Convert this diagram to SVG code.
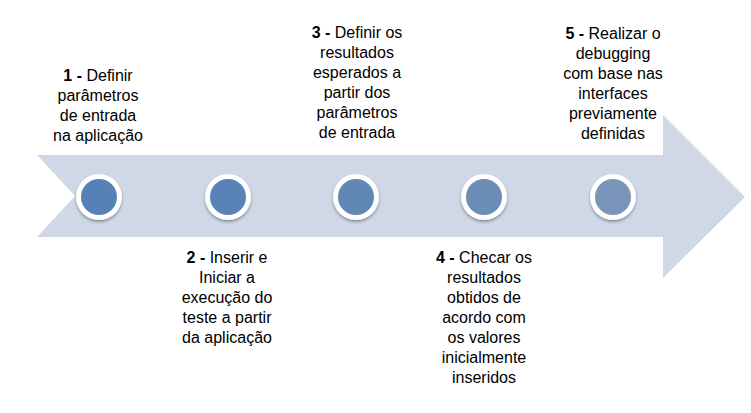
<svg xmlns="http://www.w3.org/2000/svg" width="751" height="413" viewBox="0 0 751 413">
<defs>
<style>
.t{font-family:"Liberation Sans",Arial,sans-serif;font-size:16px;fill:#000;text-anchor:middle}
.b{font-weight:bold}
.ring{fill:#fff;filter:url(#sh)}
</style>
<filter id="sh" x="-30%" y="-30%" width="160%" height="170%">
<feDropShadow dx="0" dy="2" stdDeviation="1.5" flood-color="#000" flood-opacity="0.35"/>
</filter>
</defs>
<rect width="751" height="413" fill="#fff"/>
<g id="arrow">
<polygon points="37,155 663,155 663,115 745,197 663,278 663,237 37,237 75,196" fill="#D0D8E8"/>
</g>
<g id="node1">
<circle class="ring" cx="99" cy="197" r="23"/>
<circle cx="99" cy="197" r="18" fill="#5580B8"/>
<text class="t"><tspan x="98" y="81"><tspan class="b">1 -</tspan> Definir</tspan><tspan x="98" y="101">parâmetros</tspan><tspan x="98" y="121">de entrada</tspan><tspan x="98" y="141">na aplicação</tspan></text>
</g>
<g id="node2">
<circle class="ring" cx="228" cy="197" r="23"/>
<circle cx="228" cy="197" r="18" fill="#5983B7"/>
<text class="t"><tspan x="227" y="263"><tspan class="b">2 -</tspan> Inserir e</tspan><tspan x="227" y="283">Iniciar a</tspan><tspan x="227" y="303">execução do</tspan><tspan x="227" y="323">teste a partir</tspan><tspan x="227" y="343">da aplicação</tspan></text>
</g>
<g id="node3">
<circle class="ring" cx="356" cy="197" r="23"/>
<circle cx="356" cy="197" r="18" fill="#6187B5"/>
<text class="t"><tspan x="357" y="38"><tspan class="b">3 -</tspan> Definir os</tspan><tspan x="357" y="58">resultados</tspan><tspan x="357" y="78">esperados a</tspan><tspan x="357" y="98">partir dos</tspan><tspan x="357" y="118">parâmetros</tspan><tspan x="357" y="138">de entrada</tspan></text>
</g>
<g id="node4">
<circle class="ring" cx="484" cy="197" r="23"/>
<circle cx="484" cy="197" r="18" fill="#6B8DB7"/>
<text class="t"><tspan x="484" y="263"><tspan class="b">4 -</tspan> Checar os</tspan><tspan x="484" y="283">resultados</tspan><tspan x="484" y="303">obtidos de</tspan><tspan x="484" y="323">acordo com</tspan><tspan x="484" y="343">os valores</tspan><tspan x="484" y="363">inicialmente</tspan><tspan x="484" y="383">inseridos</tspan></text>
</g>
<g id="node5">
<circle class="ring" cx="613" cy="197" r="23"/>
<circle cx="613" cy="197" r="18" fill="#7996BA"/>
<text class="t"><tspan x="613" y="39"><tspan class="b">5 -</tspan> Realizar o</tspan><tspan x="613" y="59">debugging</tspan><tspan x="613" y="79">com base nas</tspan><tspan x="613" y="99">interfaces</tspan><tspan x="613" y="119">previamente</tspan><tspan x="613" y="139">definidas</tspan></text>
</g>
<g id="connectors"></g>
</svg>
